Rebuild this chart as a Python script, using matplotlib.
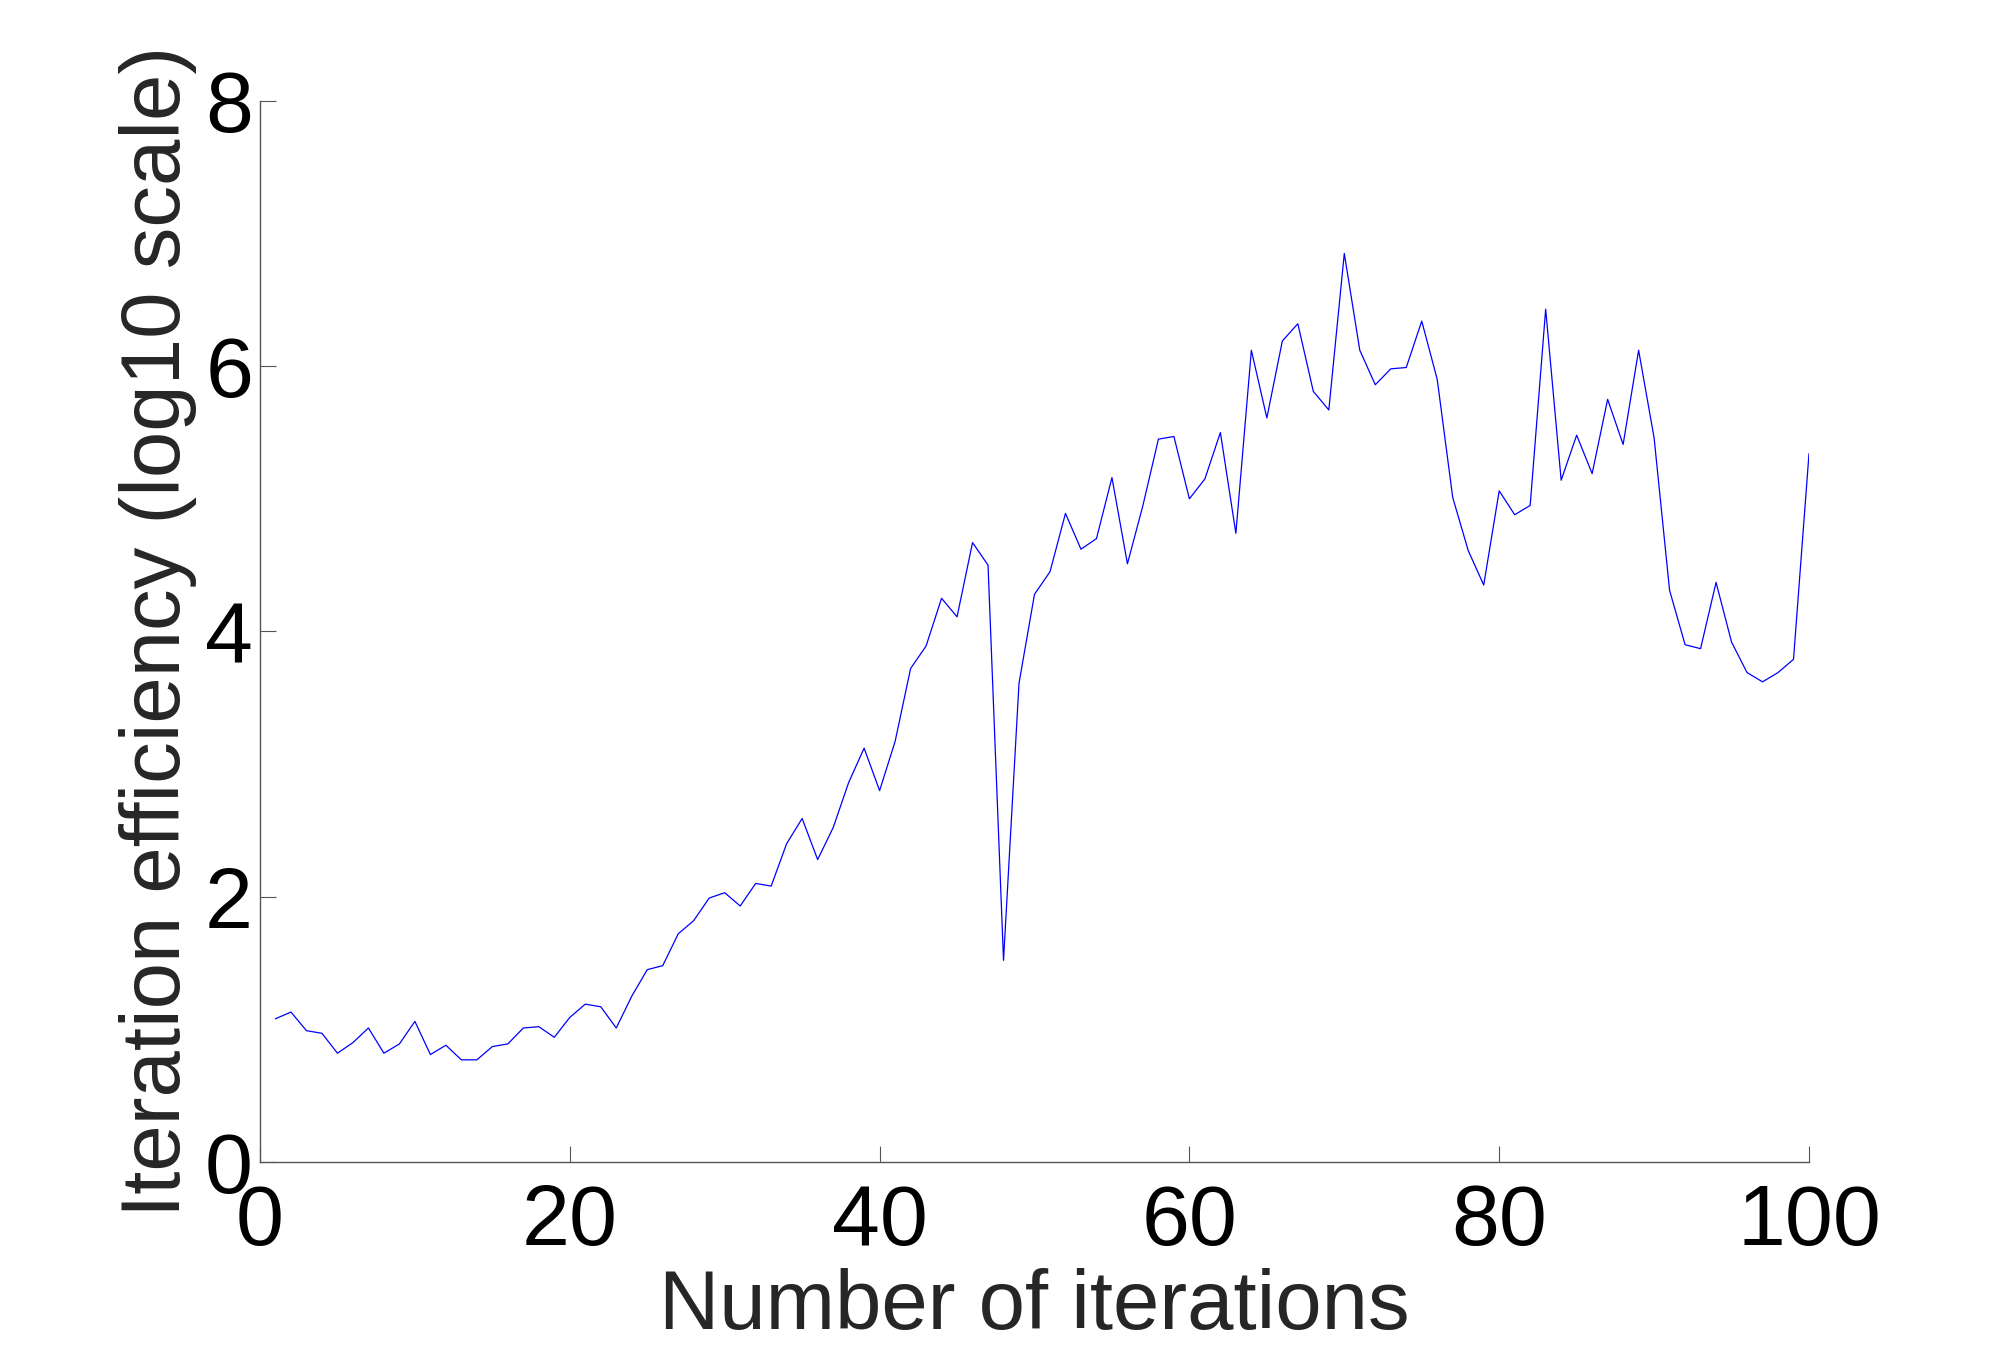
import numpy as np
import matplotlib.pyplot as plt

plt.rcParams['font.family'] = ['Liberation Sans', 'DejaVu Sans']

# data (log10 of iteration efficiency)
iterations = np.arange(1, 101)
efficiency = [
    1.08, 1.13, 0.99, 0.97, 0.82, 0.90, 1.01, 0.82, 0.89, 1.06,
    0.81, 0.88, 0.77, 0.77, 0.87, 0.89, 1.01, 1.02, 0.94, 1.09,
    1.19, 1.17, 1.01, 1.25, 1.45, 1.48, 1.72, 1.82, 1.99, 2.03,
    1.93, 2.10, 2.08, 2.40, 2.59, 2.28, 2.52, 2.86, 3.12, 2.80,
    3.17, 3.72, 3.89, 4.25, 4.11, 4.67, 4.50, 1.52, 3.61, 4.28,
    4.45, 4.89, 4.62, 4.70, 5.16, 4.51, 4.95, 5.45, 5.47, 5.00,
    5.15, 5.50, 4.74, 6.12, 5.61, 6.19, 6.32, 5.81, 5.67, 6.85,
    6.12, 5.86, 5.98, 5.99, 6.34, 5.90, 5.01, 4.61, 4.35, 5.06,
    4.88, 4.95, 6.43, 5.14, 5.48, 5.19, 5.75, 5.41, 6.12, 5.46,
    4.31, 3.90, 3.87, 4.37, 3.92, 3.69, 3.62, 3.69, 3.79, 5.34,
]

xticks = [0, 20, 40, 60, 80, 100]
yticks = [0, 2, 4, 6, 8]

fig = plt.figure(figsize=(20, 13.53), dpi=100)
ax = fig.add_axes([0.13, 0.1412, 0.7745, 0.7842])

ax.plot(iterations, efficiency, color='#0000ff', linewidth=0.9)

ax.set_xlim(0, 100)
ax.set_ylim(0, 8)
ax.set_xticks(xticks)
ax.set_yticks(yticks)

for side in ['top', 'right']:
    ax.spines[side].set_visible(False)
for side in ['left', 'bottom']:
    ax.spines[side].set_color('#555555')
    ax.spines[side].set_linewidth(1.0)

ax.tick_params(axis='both', direction='in', length=11.5, width=0.8,
               color='#555555', labelsize=62, labelcolor='black')
ax.tick_params(axis='x', pad=15)
ax.tick_params(axis='y', pad=5)

ax.set_xlabel('Number of iterations', fontsize=60, color='#262626', labelpad=4)
ax.set_ylabel('Iteration efficiency (log10 scale)', fontsize=60,
              color='#262626', labelpad=6)

fig.savefig('out.png', dpi=100, facecolor='white')
